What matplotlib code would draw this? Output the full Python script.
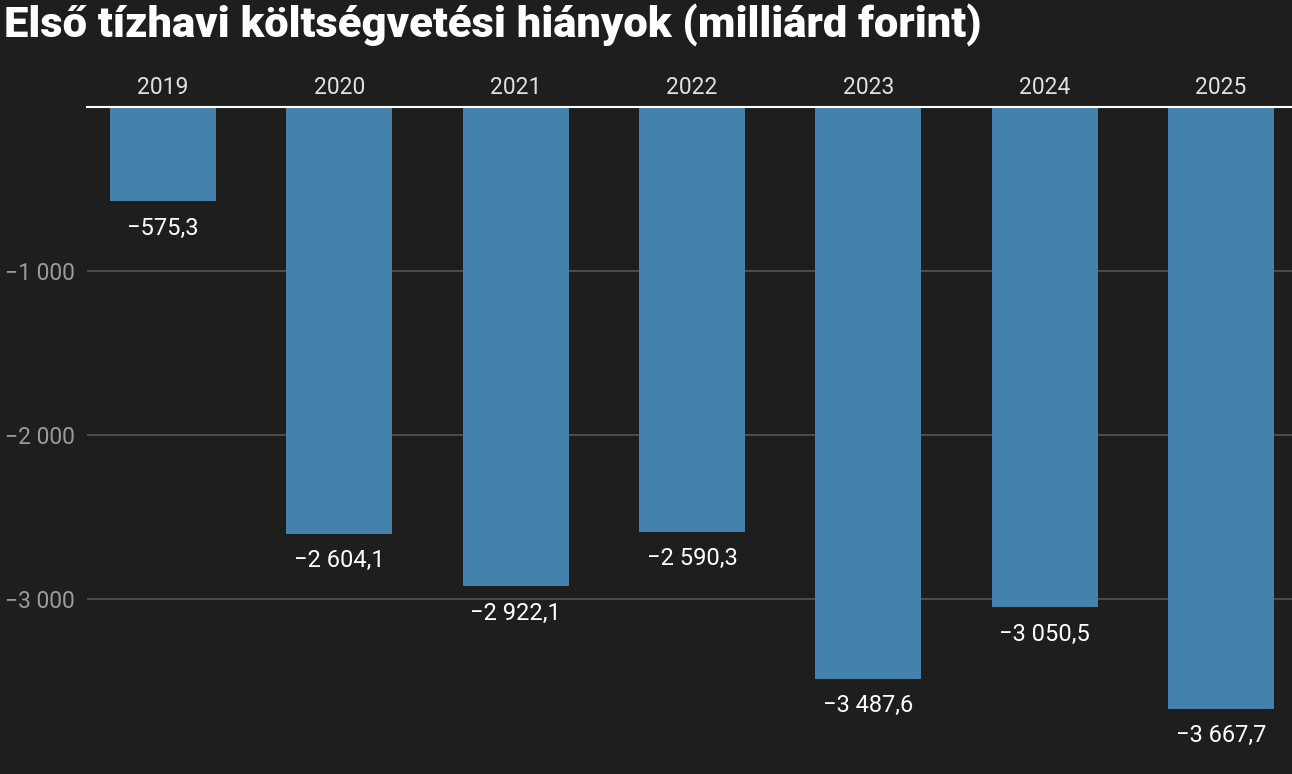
import matplotlib.pyplot as plt

years = ["2019", "2020", "2021", "2022", "2023", "2024", "2025"]
deficits = [-575.3, -2604.1, -2922.1, -2590.3, -3487.6, -3050.5, -3667.7]
yticks = [-1000, -2000, -3000]


def fmt(v, decimals):
    s = f"{abs(v):,.{decimals}f}".replace(",", " ").replace(".", ",")
    return ("\u2212" + s) if v < 0 else s


bg = "#1e1e1e"
plt.rcParams["font.family"] = ["Roboto", "DejaVu Sans"]

fig = plt.figure(figsize=(12.92, 7.74), dpi=100, facecolor=bg)
ax = fig.add_axes([87 / 1292, 0, 1 - 87 / 1292, 1 - 107 / 774], facecolor=bg)

x = list(range(len(years)))
ax.bar(x, deficits, width=0.6, color="#4481ad", zorder=3)

for xi, v in zip(x, deficits):
    ax.annotate(fmt(v, 1), (xi, v), xytext=(0, -11), textcoords="offset points",
                ha="center", va="top", color="white", fontsize=17)

ax.set_xlim(-0.431, 6.403)
ax.set_ylim(-4067, 0)

ax.set_yticks(yticks)
ax.set_yticklabels([fmt(t, 0) for t in yticks])
ax.tick_params(axis="y", length=0, pad=9, labelsize=16.5, labelcolor="#9a9a9a")
ax.yaxis.grid(True, color="#4a4a4a", linewidth=1.5, zorder=0)

ax.xaxis.tick_top()
ax.set_xticks(x)
ax.set_xticklabels(years)
ax.tick_params(axis="x", length=0, pad=6, labelsize=16.5, labelcolor="#e0e0e0")

for side in ["left", "right", "bottom"]:
    ax.spines[side].set_visible(False)
ax.spines["top"].set_color("white")
ax.spines["top"].set_linewidth(1.5)
ax.spines["top"].set_zorder(4)

fig.text(4 / 1292, 1 - 25 / 774, "Első tízhavi költségvetési hiányok (milliárd forint)",
         ha="left", va="center", color="white", fontsize=31.3, fontweight="black")

fig.savefig("out.png", dpi=100, facecolor=bg)
